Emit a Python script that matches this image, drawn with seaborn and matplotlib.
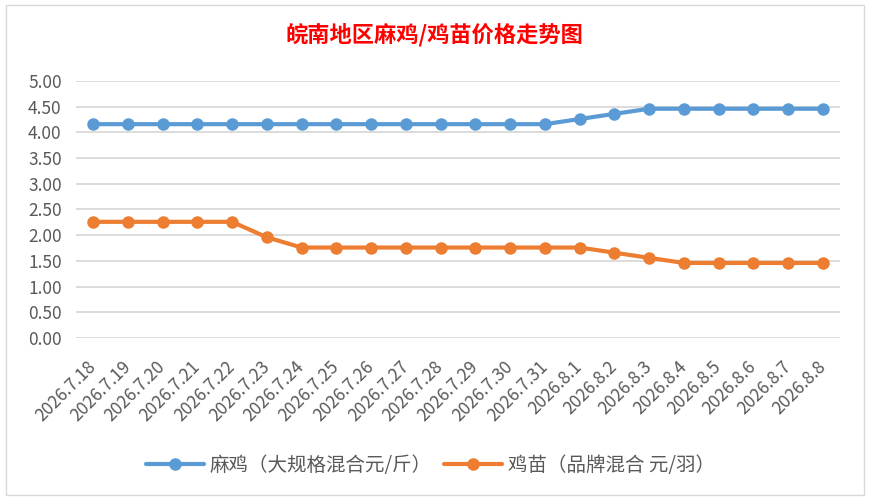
import matplotlib
matplotlib.use("Agg")
import matplotlib.pyplot as plt
import seaborn as sns
import pandas as pd
from matplotlib.lines import Line2D
from matplotlib.patches import Rectangle

dates = ["2026.7.18", "2026.7.19", "2026.7.20", "2026.7.21", "2026.7.22", "2026.7.23",
         "2026.7.24", "2026.7.25", "2026.7.26", "2026.7.27", "2026.7.28", "2026.7.29",
         "2026.7.30", "2026.7.31", "2026.8.1", "2026.8.2", "2026.8.3", "2026.8.4",
         "2026.8.5", "2026.8.6", "2026.8.7", "2026.8.8"]
maji = [4.16, 4.16, 4.16, 4.16, 4.16, 4.16, 4.16, 4.16, 4.16, 4.16, 4.16, 4.16,
        4.16, 4.16, 4.26, 4.36, 4.46, 4.46, 4.46, 4.46, 4.46, 4.46]
jimiao = [2.26, 2.26, 2.26, 2.26, 2.26, 1.96, 1.76, 1.76, 1.76, 1.76, 1.76, 1.76,
          1.76, 1.76, 1.76, 1.66, 1.56, 1.46, 1.46, 1.46, 1.46, 1.46]
series_names = ["麻鸡（大规格混合元/斤）", "鸡苗（品牌混合 元/羽）"]
yticks = [0.0, 0.5, 1.0, 1.5, 2.0, 2.5, 3.0, 3.5, 4.0, 4.5, 5.0]
title = "皖南地区麻鸡/鸡苗价格走势图"

sns.set_theme(style="white")
plt.rcParams['font.family'] = ['Noto Sans CJK SC', 'DejaVu Sans']

colors = ["#5B9BD5", "#ED7D31"]

df = pd.DataFrame({
    "date": dates * 2,
    "price": maji + jimiao,
    "series": [series_names[0]] * len(dates) + [series_names[1]] * len(dates),
})

fig = plt.figure(figsize=(8.69, 5.03), dpi=100)
fig.patch.set_facecolor("white")
fig.add_artist(Rectangle((6 / 869, 1 - 495 / 503), 858 / 869, 490 / 503,
                         transform=fig.transFigure, fill=False,
                         edgecolor="#D9D9D9", linewidth=1.0))

ax = fig.add_axes([0.087, 0.328, 0.880, 0.511])
sns.lineplot(data=df, x="date", y="price", hue="series", palette=colors,
             sort=False, marker="o", markersize=9, markeredgewidth=0,
             linewidth=3, ax=ax, legend=False)

ax.set_ylim(0, 5.0)
ax.set_xlim(-0.5, len(dates) - 0.5)
ax.set_yticks(yticks)
ax.set_yticklabels([f"{v:.2f}" for v in yticks], color="#595959", fontsize=12.5)
ax.set_xticks(range(len(dates)))
ax.set_xticklabels(dates, rotation=45, ha="right", va="center", rotation_mode="anchor",
                   color="#595959", fontsize=12.5)
ax.tick_params(axis="y", length=0, pad=10)
ax.tick_params(axis="x", length=0, pad=19)
ax.yaxis.grid(True, color="#D9D9D9", linewidth=1.3)
ax.set_axisbelow(True)
for s in ax.spines.values():
    s.set_visible(False)
ax.set_xlabel("")
ax.set_ylabel("")
for l in ax.lines:
    l.set_clip_on(False)

fig.text(0.5, 1 - 35 / 503, title, color="#FF0000", fontsize=16,
         fontweight="bold", ha="center", va="center")

handles = [Line2D([0], [0], color=c, linewidth=3, marker="o", markersize=9,
                  markeredgewidth=0) for c in colors]
fig.legend(handles, series_names, loc="center", bbox_to_anchor=(0.495, 1 - 465 / 503),
           ncol=2, frameon=False, fontsize=14, handlelength=3.0,
           columnspacing=0.6, handletextpad=0.3, labelcolor="#595959")

fig.savefig("out.png", dpi=100, facecolor="white")
